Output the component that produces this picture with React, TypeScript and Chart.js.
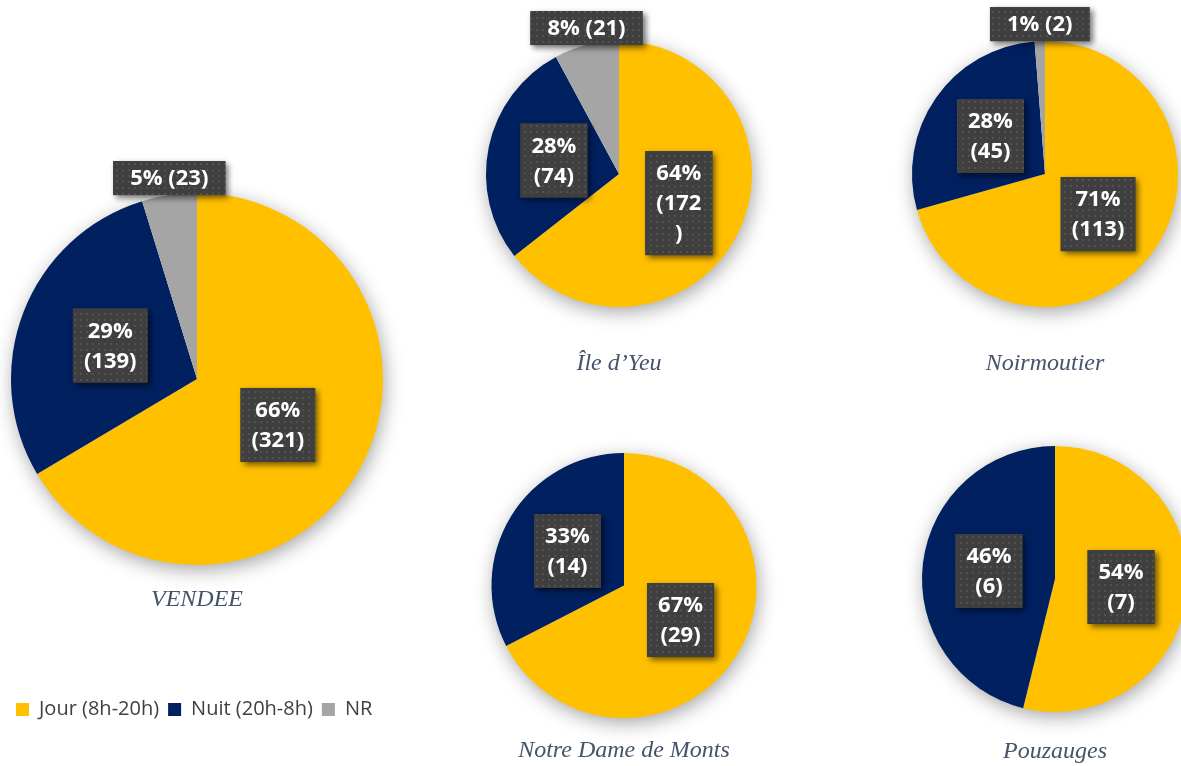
import React, { useEffect, useRef } from "react";
import { Chart, registerables } from "chart.js";

Chart.register(...registerables);

// ---------- DATA ----------
const categories = ["Jour (8h-20h)", "Nuit (20h-8h)", "NR"];
const vendeeValues = [321, 139, 23];
const ileDYeuValues = [172, 74, 21];
const noirmoutierValues = [113, 45, 2];
const notreDameValues = [29, 14, 0];
const pouzaugesValues = [7, 6, 0];
const chartTitles = ["VENDEE", "Île d’Yeu", "Noirmoutier", "Notre Dame de Monts", "Pouzauges"];

// ---------- STYLE ----------
const sliceColors = ["#FFC000", "#002060", "#A5A5A5"];
const LABEL_FONT = "bold 22px 'Open Sans'";
const TITLE_SIZE = 24;
const TITLE_LINE = TITLE_SIZE * 1.2;
const LEGEND_SIZE = 20;
const LEGEND_PAD = 9;

type Layout = {
  cx: number; cy: number; r: number; titleY: number;
  legendY?: number; L?: number; W?: number; pl?: number; wrap?: number;
};

const layouts: Layout[] = [
  { cx: 197, cy: 379, r: 186, titleY: 600, legendY: 709.5, L: 0, W: 420, pl: 7 },
  { cx: 619, cy: 174, r: 133, titleY: 364, wrap: 48 },
  { cx: 1045, cy: 174, r: 133, titleY: 364 },
  { cx: 624, cy: 585.5, r: 132.5, titleY: 751 },
  { cx: 1055, cy: 579, r: 133, titleY: 752 },
];

const seriesList = [vendeeValues, ileDYeuValues, noirmoutierValues, notreDameValues, pouzaugesValues];

let patternCache: CanvasPattern | null = null;
function getPattern(ctx: CanvasRenderingContext2D) {
  if (patternCache) return patternCache;
  const c = document.createElement("canvas");
  c.width = 6; c.height = 6;
  const p = c.getContext("2d")!;
  p.fillStyle = "#3f3f3f";
  p.fillRect(0, 0, 6, 6);
  p.fillStyle = "#515151";
  p.fillRect(2, 2, 2, 2);
  patternCache = ctx.createPattern(c, "repeat");
  return patternCache;
}

function wrapText(ctx: CanvasRenderingContext2D, text: string, maxW: number): string[] {
  if (ctx.measureText(text).width <= maxW) return [text];
  const lines: string[] = [];
  let cur = "";
  for (const ch of text) {
    if (cur && ctx.measureText(cur + ch).width > maxW) { lines.push(cur); cur = ch; }
    else cur += ch;
  }
  if (cur) lines.push(cur);
  return lines;
}

function drawBox(ctx: CanvasRenderingContext2D, x: number, y: number, w: number, h: number, lines: string[], lineH: number) {
  ctx.save();
  ctx.shadowColor = "rgba(0,0,0,0.55)";
  ctx.shadowBlur = 6;
  ctx.shadowOffsetX = 3;
  ctx.shadowOffsetY = 3;
  ctx.fillStyle = "#3f3f3f";
  ctx.fillRect(x, y, w, h);
  ctx.restore();
  ctx.save();
  ctx.fillStyle = getPattern(ctx) as any;
  ctx.fillRect(x, y, w, h);
  ctx.fillStyle = "#ffffff";
  ctx.font = LABEL_FONT;
  ctx.textAlign = "center";
  ctx.textBaseline = "middle";
  const top = y + (h - lines.length * lineH) / 2;
  lines.forEach((ln, i) => ctx.fillText(ln, x + w / 2, top + lineH * (i + 0.5) + 1));
  ctx.restore();
}

const shadowPlugin = {
  id: "pieShadow",
  beforeDatasetsDraw(chart: any) {
    const arc = chart.getDatasetMeta(0).data[0];
    if (!arc) return;
    const { x, y, outerRadius } = arc.getProps(["x", "y", "outerRadius"], true);
    const ctx = chart.ctx;
    ctx.save();
    ctx.shadowColor = "rgba(0,0,0,0.38)";
    ctx.shadowBlur = 20;
    ctx.shadowOffsetX = 2;
    ctx.shadowOffsetY = 5;
    ctx.fillStyle = "#ffffff";
    ctx.beginPath();
    ctx.arc(x, y, outerRadius - 1, 0, Math.PI * 2);
    ctx.fill();
    ctx.restore();
  },
};

const labelPlugin = {
  id: "pieLabels",
  afterDatasetsDraw(chart: any, _args: any, opts: any) {
    const ctx: CanvasRenderingContext2D = chart.ctx;
    const data: number[] = chart.data.datasets[0].data;
    const total = data.reduce((a, b) => a + b, 0);
    const meta = chart.getDatasetMeta(0);
    ctx.save();
    ctx.font = LABEL_FONT;
    meta.data.forEach((arc: any, i: number) => {
      const v = data[i];
      if (!v) return;
      const pct = Math.round((v / total) * 100);
      if (pct < 10) {
        const { x, y, startAngle, endAngle, outerRadius } = arc.getProps(["x", "y", "startAngle", "endAngle", "outerRadius"], true);
        const mid = (startAngle + endAngle) / 2;
        const px = x + Math.cos(mid) * outerRadius;
        const py = y + Math.sin(mid) * outerRadius;
        const text = `${pct}% (${v})`;
        const w = ctx.measureText(text).width + 34;
        const h = 34;
        drawBox(ctx, px - w / 2, py - h, w, h, [text], 30);
      } else {
        const pos = arc.tooltipPosition(true);
        const lines = [`${pct}%`, ...wrapText(ctx, `(${v})`, opts.wrap || 1000)];
        const w = Math.max(...lines.map((l) => ctx.measureText(l).width)) + 22;
        const h = lines.length * 30 + 14;
        drawBox(ctx, pos.x - w / 2, pos.y - h / 2, w, h, lines, 30);
      }
    });
    ctx.restore();
  },
};

function computeGeometry(lay: Layout) {
  const M = 30;
  const L = lay.L ?? Math.round(lay.cx - lay.r - M);
  const W = lay.W ?? Math.round(2 * (lay.cx - L));
  const pl = lay.pl ?? lay.cx - lay.r - L;
  const pr = W - 2 * (lay.cx - L) + pl;
  const T = Math.round(lay.cy - lay.r - 50);
  const pt = lay.cy - lay.r - T;
  const areaBottom = lay.cy + lay.r;
  const titleTop = lay.titleY - areaBottom - TITLE_LINE / 2;
  let titleBottom = 8;
  let legendH = 0;
  if (lay.legendY !== undefined) {
    const itemH = LEGEND_SIZE;
    legendH = itemH + LEGEND_PAD + 10;
    const legendTop = lay.legendY - LEGEND_PAD - itemH / 2;
    titleBottom = legendTop - (lay.titleY + TITLE_LINE / 2);
  }
  const used = pt + 2 * lay.r + titleTop + TITLE_LINE + titleBottom + legendH;
  const H = Math.ceil(used + 6);
  const pb = H - used;
  return { L, T, W, H, pl, pr, pt, pb, titleTop, titleBottom };
}

function PieChart({ index }: { index: number }) {
  const ref = useRef<HTMLCanvasElement>(null);
  const lay = layouts[index];
  const g = computeGeometry(lay);
  useEffect(() => {
    const hasLegend = lay.legendY !== undefined;
    const chart = new Chart(ref.current!, {
      type: "pie",
      data: {
        labels: categories,
        datasets: [
          {
            data: seriesList[index],
            backgroundColor: sliceColors,
            borderWidth: 0,
            hoverBorderWidth: 0,
            offset: 0,
            hoverOffset: 0,
          } as any,
        ],
      },
      options: {
        responsive: false,
        animation: false,
        events: [],
        layout: { padding: { left: g.pl, right: g.pr, top: g.pt, bottom: g.pb } },
        plugins: {
          legend: {
            display: hasLegend,
            position: "bottom",
            align: "start",
            labels: {
              boxWidth: 13,
              boxHeight: 13,
              padding: LEGEND_PAD,
              color: "#404040",
              font: { family: "'Open Sans'", size: LEGEND_SIZE },
            },
          } as any,
          title: {
            display: true,
            text: chartTitles[index],
            position: "bottom",
            color: "#44546A",
            font: { family: "'Liberation Serif'", size: TITLE_SIZE, style: "italic", weight: "normal" },
            padding: { top: g.titleTop, bottom: g.titleBottom },
            weight: 100,
          } as any,
          tooltip: { enabled: false },
          pieLabels: { wrap: lay.wrap },
        } as any,
      },
      plugins: [shadowPlugin, labelPlugin],
    });
    return () => chart.destroy();
  }, []);
  return (
    <canvas
      ref={ref}
      width={g.W}
      height={g.H}
      style={{ position: "absolute", left: g.L, top: g.T, width: g.W, height: g.H }}
    />
  );
}

export default function App() {
  useEffect(() => {
    document.body.style.margin = "0";
    document.body.style.overflow = "hidden";
  }, []);
  return (
    <div style={{ position: "relative", width: 1181, height: 766, overflow: "hidden", background: "#ffffff" }}>
      {layouts.map((_, i) => (
        <PieChart key={i} index={i} />
      ))}
    </div>
  );
}
